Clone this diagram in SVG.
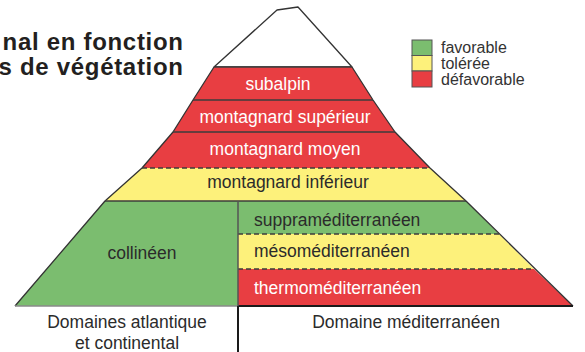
<svg xmlns="http://www.w3.org/2000/svg" width="585" height="352" viewBox="0 0 585 352">
<style>
.red{fill:#e83e42}
.grn{fill:#7bbd6f}
.yel{fill:#fdf17b}
.t{font-family:"Liberation Sans",Arial,sans-serif;font-size:17.5px}
.w{fill:#ffffff}
.d{fill:#2b2b2b}
.c{text-anchor:middle}
.sep{stroke:#3c3c3c;stroke-width:1.5;fill:none}
.dash{stroke:#3c3c3c;stroke-width:1.5;stroke-dasharray:5 3;fill:none}
.edge{stroke:#333333;stroke-width:1.3;fill:none;stroke-linejoin:round}
.title{font-family:"Liberation Sans",Arial,sans-serif;font-size:24px;font-weight:bold;fill:#231f20;text-anchor:end;letter-spacing:0.7px}
.leg{font-family:"Liberation Sans",Arial,sans-serif;font-size:16px;fill:#333333}
</style>
<rect width="585" height="352" fill="#ffffff"/>
<g id="title">
<text class="title" x="183.7" y="50">nal en fonction</text>
<text class="title" x="183.7" y="75">s de végétation</text>
</g>
<g id="peak">
<polygon points="214,67 277,10 298,7 352,67" fill="#ffffff" class="edge"/>
</g>
<g id="subalpin">
<polygon class="red" points="214,67 352,67 373,100 193,100"/>
<text class="t w c" x="278" y="90">subalpin</text>
</g>
<g id="montagnard-superieur">
<polygon class="red" points="193,100 373,100 395,132 173,132"/>
<text class="t w c" x="285" y="123">montagnard supérieur</text>
</g>
<g id="montagnard-moyen">
<polygon class="red" points="173,132 395,132 430,168 142,168"/>
<text class="t w c" x="285" y="155">montagnard moyen</text>
</g>
<g id="montagnard-inferieur">
<polygon class="yel" points="142,168 430,168 466,201 105,201"/>
<text class="t d c" x="288" y="188">montagnard inférieur</text>
</g>
<g id="collineen">
<polygon class="grn" points="105,201 238,201 238,306 15,306"/>
<text class="t d c" x="142" y="259">collinéen</text>
</g>
<g id="supramediterraneen">
<polygon class="grn" points="238,201 466,201 499,234 238,234"/>
<text class="t d" x="254" y="226">suppraméditerranéen</text>
</g>
<g id="mesomediterraneen">
<polygon class="yel" points="238,234 499,234 534,269 238,269"/>
<text class="t d" x="254" y="257">mésoméditerranéen</text>
</g>
<g id="thermomediterraneen">
<polygon class="red" points="238,269 534,269 573,306 238,306"/>
<text class="t w" x="254" y="294">thermoméditerranéen</text>
</g>
<g id="connectors">
<polyline class="edge" points="214,67 193,100 173,132 142,168 105,201 15,306"/>
<polyline class="edge" points="352,67 373,100 395,132 430,168 466,201 573,306"/>
<line class="sep" x1="214" y1="67" x2="352" y2="67"/>
<line class="sep" x1="193" y1="100" x2="373" y2="100"/>
<line class="sep" x1="173" y1="132" x2="395" y2="132"/>
<line class="dash" x1="142" y1="168" x2="430" y2="168"/>
<line class="sep" x1="105" y1="201" x2="466" y2="201"/>
<line class="dash" x1="238" y1="234" x2="499" y2="234"/>
<line class="dash" x1="238" y1="269" x2="534" y2="269"/>
<line x1="15" y1="306" x2="238" y2="306" stroke="#8a8a8a" stroke-width="1.5"/>
<line x1="238" y1="306" x2="573" y2="306" stroke="#1a1a1a" stroke-width="2"/>
<line x1="238" y1="201" x2="238" y2="306" stroke="#555555" stroke-width="1.5"/>
<line x1="238" y1="306" x2="238" y2="352" stroke="#1a1a1a" stroke-width="2"/>
</g>
<g id="domain-labels">
<text class="t d c" x="127" y="328">Domaines atlantique</text>
<text class="t d c" x="127" y="349">et continental</text>
<text class="t d c" x="406" y="328">Domaine méditerranéen</text>
</g>
<g id="legend">
<rect class="grn" x="412" y="40" width="20" height="15.5" stroke="#555" stroke-width="1"/>
<rect class="yel" x="412" y="55.5" width="20" height="15.5" stroke="#555" stroke-width="1"/>
<rect class="red" x="412" y="71" width="20" height="16" stroke="#555" stroke-width="1"/>
<text class="leg" x="441" y="53">favorable</text>
<text class="leg" x="441" y="69">tolérée</text>
<text class="leg" x="441" y="85">défavorable</text>
</g>
</svg>
